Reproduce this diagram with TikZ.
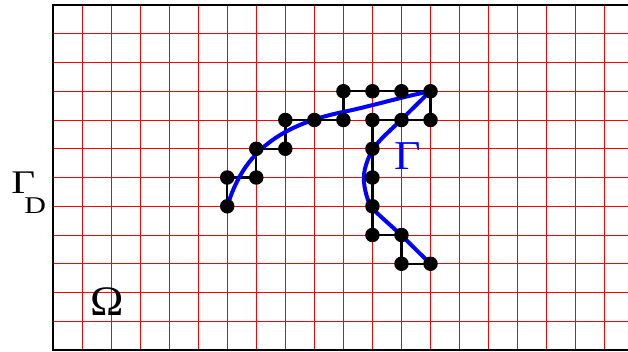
\documentclass[tikz,border=0pt]{standalone}
\usepackage{fontspec}
\setmainfont{Liberation Serif}
\begin{document}
\begin{tikzpicture}[x=1pt,y=-1pt,
  gridline/.style={red,line width=0.9pt},
  frameline/.style={black,line width=2.6pt},
  dot/.style={circle,fill=black,inner sep=0pt,minimum size=14.5pt},
  link/.style={black,line width=2.4pt},
  curve/.style={blue,line width=4pt,line cap=round,line join=round},
  lbl/.style={inner sep=0pt,anchor=base west}]
\useasboundingbox (0,0) rectangle (628,351);
\fill[white] (0,0) rectangle (628,351);
% grid
\foreach \i in {1,...,19} \draw[gridline] ({53+29.04*\i},5) -- ({53+29.04*\i},350);
\foreach \j in {1,...,11} \draw[gridline] (53,{5+28.75*\j}) -- (628,{5+28.75*\j});
\draw[frameline] (628,5) -- (53,5) -- (53,349.8) -- (628,349.8);
% dot positions
\foreach \n/\i/\j in {d1/6/7, d2/6/6, d3/7/6, d4/7/5, d5/8/5, d6/8/4, d7/9/4, d8/10/4,
  d9/10/3, d10/11/3, d11/12/3, d12/13/3, d13/13/4, d14/12/4, d15/11/4, d16/11/5,
  d17/11/6, d18/11/7, d19/11/8, d20/12/8, d21/12/9, d22/13/9}
  \coordinate (\n) at ({53+29.04*\i},{5+28.75*\j});
% links
\foreach \a/\b in {d1/d2, d2/d3, d3/d4, d4/d5, d5/d6, d6/d7, d7/d8, d8/d9, d9/d10,
  d10/d11, d11/d12, d12/d13, d13/d14, d14/d15, d15/d16, d16/d17, d17/d18, d18/d19,
  d19/d20, d20/d21, d21/d22}
  \draw[link] (\a) -- (\b);
% blue curve
\draw[curve] (d1) .. controls (240,165) and (265,128) .. (343,112)
  .. controls (372,106) and (401,97) .. (d12);
\draw[curve] plot[smooth,tension=0.6] coordinates {(430.5,91) (401,120) (376,145) (366,165) (364,182) (368,200) (374,210) (401,235) (430.5,264)};
% dot nodes on top
\foreach \n in {d1,d2,d3,d4,d5,d6,d7,d8,d9,d10,d11,d12,d13,d14,d15,d16,d17,d18,d19,d20,d21,d22}
  \node[dot] (n\n) at (\n) {};
% labels
\node[lbl,font=\fontsize{33}{33}\selectfont,xscale=1.25] (gam) at (11,193)
  {Γ\hspace{-8.6pt}\raisebox{-20pt}{\fontsize{24}{24}\selectfont D}};
\node[lbl,text=blue,font=\fontsize{41}{41}\selectfont,xscale=1.12] (gblue) at (394,169) {Γ};
\node[lbl,font=\fontsize{42}{42}\selectfont,xscale=1.07] (om) at (90,315) {Ω};
\end{tikzpicture}
\end{document}
